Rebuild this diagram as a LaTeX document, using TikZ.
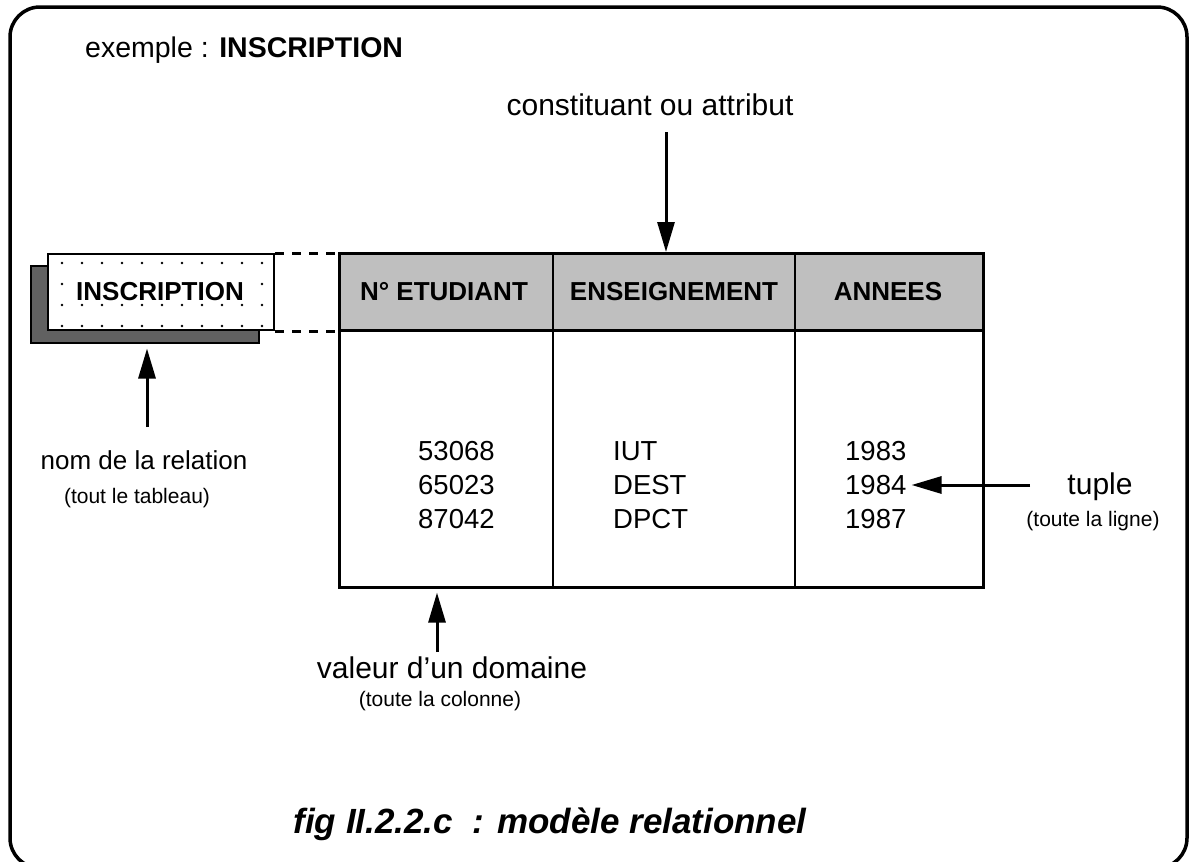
\documentclass[tikz,border=0pt]{standalone}
\usepackage{fontspec}
\setmainfont{Liberation Sans}
\usetikzlibrary{arrows.meta}
\begin{document}
\begin{tikzpicture}[x=1pt,y=-1pt,
  txt/.style={inner sep=0pt, anchor=base},
  big/.style={txt, font=\fontsize{30}{35}\selectfont},
  mid/.style={txt, font=\fontsize{26}{31}\selectfont},
  small/.style={txt, font=\fontsize{21}{25}\selectfont},
  hdr/.style={txt, font=\fontsize{26}{31}\selectfont\bfseries},
  cell/.style={txt, anchor=base west, font=\fontsize{27.5}{32}\selectfont},
  pointer/.style={line width=3pt, -{Triangle[length=30pt,width=17pt]}},
  link/.style={line width=3pt, dash pattern=on 9pt off 8pt},
  rule/.style={line width=2.6pt}]

\useasboundingbox (0,0) rectangle (1197,862);

% outer frame
\draw[line width=3.5pt, rounded corners=30pt] (10,7) rectangle (1187,868);

% title
\node[txt, anchor=base west, font=\fontsize{28.5}{34}\selectfont] (title) at (85,57)
  {exemple : \textbf{INSCRIPTION}};

% relation table
\node[fill=black!25, inner sep=0pt, minimum width=644pt, minimum height=78pt,
      anchor=north west] (head) at (338,252) {};
\node[draw, rule, inner sep=0pt, minimum width=644pt, minimum height=334pt,
      anchor=north west] (tbl) at (338,252) {};
\draw[rule] (head.south west) -- (head.south east);
\coordinate (c1) at (553,252);
\coordinate (c2) at (795,252);
\draw[rule] (c1) -- (c1 |- tbl.south);
\draw[rule] (c2) -- (c2 |- tbl.south);

\node[hdr] (h1) at (444,300) {N° ETUDIANT};
\node[hdr] (h2) at (674,300) {ENSEIGNEMENT};
\node[hdr] (h3) at (888,300) {ANNEES};

\node[cell] (a1) at (418,460) {53068};
\node[cell] (a2) at (418,494) {65023};
\node[cell] (a3) at (418,528) {87042};
\node[cell] (b1) at (613,460) {IUT};
\node[cell] (b2) at (613,494) {DEST};
\node[cell] (b3) at (613,528) {DPCT};
\node[cell] (d1) at (845,460) {1983};
\node[cell] (d2) at (845,494) {1984};
\node[cell] (d3) at (845,528) {1987};

% relation name box with its shadow
\node[draw, line width=1.5pt, fill=black!62, inner sep=0pt, minimum width=228pt,
      minimum height=77pt, anchor=north west] (shadow) at (30,265) {};
\node[draw, line width=2.2pt, fill=white, inner sep=0pt, minimum width=226pt,
      minimum height=76pt, anchor=north west] (box) at (47,253) {};
\foreach \i in {0,...,10}
  \foreach \j in {0,...,3}
    \fill (62+\i*20,263+\j*21) circle (1.3pt);
\node[hdr, fill=white, inner sep=1pt] (boxlabel) at (160,300) {INSCRIPTION};

% dashed links from the box to the header
\draw[link] (box.north east) -- (box.north east -| tbl.west);
\draw[link] (box.south east) -- (box.south east -| tbl.west);

% annotations
\node[big] (cons) at (650,115) {constituant ou attribut};
\coordinate (consTail) at (666,132);
\draw[pointer] (consTail) -- (consTail |- tbl.north);

\node[mid] (nom) at (144,469) {nom de la relation};
\node[small] (nomsub) at (137,503) {(tout le tableau)};
\coordinate (nomTail) at (147,427);
\draw[pointer] (nomTail) -- ([yshift=-5pt]nomTail |- shadow.south);

\node[big] (val) at (452,678) {valeur d'un domaine};
\node[small] (valsub) at (440,706) {(toute la colonne)};
\coordinate (valTail) at (437,652);
\draw[pointer] (valTail) -- ([yshift=-4pt]valTail |- tbl.south);

\node[big] (tup) at (1100,494) {tuple};
\node[small] (tupsub) at (1093,526) {(toute la ligne)};
\coordinate (tupTail) at (1030,485);
\draw[pointer] (tupTail) -- ([xshift=5pt]tupTail -| d2.east);

% caption
\node[txt, font=\fontsize{35}{40}\selectfont\bfseries\itshape] (caption) at (550,833)
  {fig II.2.2.c\ \ : modèle relationnel};
\end{tikzpicture}
\end{document}
